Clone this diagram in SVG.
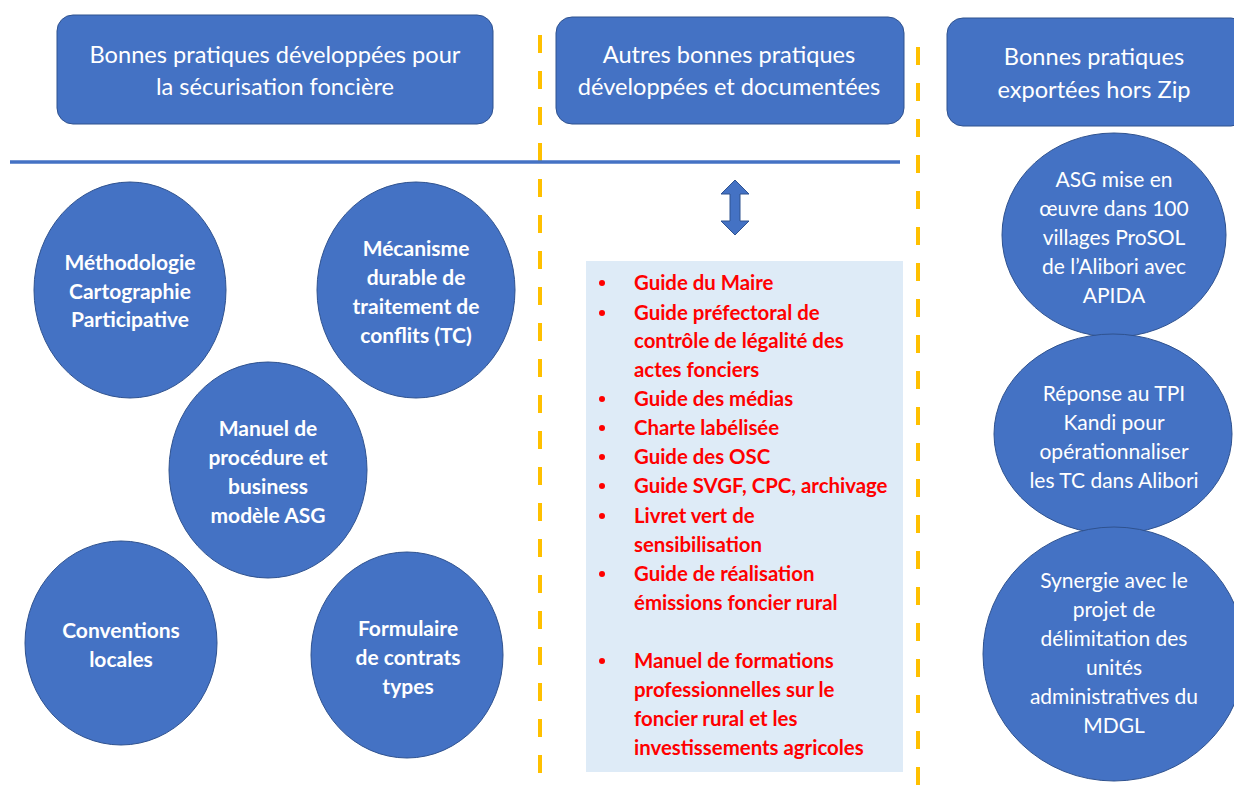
<svg xmlns="http://www.w3.org/2000/svg" width="1234" height="785" viewBox="0 0 1234 785">
  <style>
    .hdr { fill: #4472C4; stroke: #2F528F; stroke-width: 1; }
    .hdr-t { font-family: Lato, "Liberation Sans", sans-serif; font-size: 23.6px; fill: #FFFFFF; text-anchor: middle; }
    .disc { fill: #4472C4; stroke: #2F528F; stroke-width: 1; }
    .disc-b { font-family: Lato, "Liberation Sans", sans-serif; font-size: 21px; font-weight: bold; fill: #FFFFFF; text-anchor: middle; }
    .disc-r { font-family: Lato, "Liberation Sans", sans-serif; font-size: 21px; fill: #FFFFFF; text-anchor: middle; }
    .sep { stroke: #FFC000; stroke-width: 4; stroke-dasharray: 18 18; fill: none; }
    .rule { stroke: #4472C4; stroke-width: 3.5; fill: none; }
    .list { font-family: Lato, "Liberation Sans", sans-serif; font-size: 20.4px; font-weight: bold; fill: #FF0000; }
    .bullet { fill: #FF0000; }
  </style>

  <rect width="1234" height="785" fill="#FFFFFF"/>

  <!-- column separators and header rule -->
  <g id="guides">
    <line class="sep" x1="540" y1="35" x2="540" y2="785"/>
    <line class="sep" x1="918" y1="47" x2="918" y2="785"/>
    <line class="rule" x1="10" y1="162" x2="900" y2="162"/>
  </g>

  <!-- column headers -->
  <g id="header-securisation">
    <rect class="hdr" x="57" y="15" width="436" height="109" rx="16"/>
    <text class="hdr-t" x="275" y="63">Bonnes pratiques développées pour</text>
    <text class="hdr-t" x="275" y="95">la sécurisation foncière</text>
  </g>
  <g id="header-autres">
    <rect class="hdr" x="556" y="17" width="348" height="107" rx="16"/>
    <text class="hdr-t" x="729" y="63">Autres bonnes pratiques</text>
    <text class="hdr-t" x="729" y="95">développées et documentées</text>
  </g>
  <g id="header-exportees">
    <rect class="hdr" x="947" y="18" width="300" height="108" rx="16"/>
    <text class="hdr-t" x="1094" y="65">Bonnes pratiques</text>
    <text class="hdr-t" x="1094" y="98">exportées hors Zip</text>
  </g>

  <!-- left column -->
  <g id="methodologie">
    <ellipse class="disc" cx="130" cy="290" rx="96" ry="108"/>
    <text class="disc-b" x="130" y="270">Méthodologie</text>
    <text class="disc-b" x="130" y="299">Cartographie</text>
    <text class="disc-b" x="130" y="327">Participative</text>
  </g>
  <g id="mecanisme">
    <ellipse class="disc" cx="416" cy="290" rx="99" ry="108"/>
    <text class="disc-b" x="416" y="256">Mécanisme</text>
    <text class="disc-b" x="416" y="285">durable de</text>
    <text class="disc-b" x="416" y="314">traitement de</text>
    <text class="disc-b" x="416" y="343">conflits (TC)</text>
  </g>
  <g id="manuel">
    <ellipse class="disc" cx="268" cy="470" rx="99" ry="108"/>
    <text class="disc-b" x="268" y="436">Manuel de</text>
    <text class="disc-b" x="268" y="465">procédure et</text>
    <text class="disc-b" x="268" y="494">business</text>
    <text class="disc-b" x="268" y="523">modèle ASG</text>
  </g>
  <g id="conventions">
    <ellipse class="disc" cx="121" cy="643" rx="96" ry="102"/>
    <text class="disc-b" x="121" y="638">Conventions</text>
    <text class="disc-b" x="121" y="667">locales</text>
  </g>
  <g id="formulaire">
    <ellipse class="disc" cx="407" cy="655" rx="96" ry="103"/>
    <text class="disc-b" x="408" y="636">Formulaire</text>
    <text class="disc-b" x="408" y="665">de contrats</text>
    <text class="disc-b" x="408" y="694">types</text>
  </g>

  <!-- middle column -->
  <g id="connectors">
    <polygon class="disc" points="735,180 749,194 740,194 740,221 749,221 735,235 721,221 730,221 730,194 721,194"/>
  </g>
  <g id="liste-guides">
    <rect x="586" y="261" width="317" height="511" fill="#DEEBF7"/>
    <g class="bullet">
      <circle cx="602" cy="283" r="3"/>
      <circle cx="602" cy="313" r="3"/>
      <circle cx="602" cy="399" r="3"/>
      <circle cx="602" cy="428" r="3"/>
      <circle cx="602" cy="457" r="3"/>
      <circle cx="602" cy="486" r="3"/>
      <circle cx="602" cy="516" r="3"/>
      <circle cx="602" cy="574" r="3"/>
      <circle cx="602" cy="661" r="3"/>
    </g>
    <g class="list">
      <text x="634" y="290">Guide du Maire</text>
      <text x="634" y="320">Guide préfectoral de</text>
      <text x="634" y="348">contrôle de légalité des</text>
      <text x="634" y="377">actes fonciers</text>
      <text x="634" y="406">Guide des médias</text>
      <text x="634" y="435">Charte labélisée</text>
      <text x="634" y="464">Guide des OSC</text>
      <text x="634" y="493">Guide SVGF, CPC, archivage</text>
      <text x="634" y="523">Livret vert de</text>
      <text x="634" y="552">sensibilisation</text>
      <text x="634" y="581">Guide de réalisation</text>
      <text x="634" y="610">émissions foncier rural</text>
      <text x="634" y="668">Manuel de formations</text>
      <text x="634" y="697">professionnelles sur le</text>
      <text x="634" y="726">foncier rural et les</text>
      <text x="634" y="755">investissements agricoles</text>
    </g>
  </g>

  <!-- right column -->
  <g id="asg-alibori">
    <ellipse class="disc" cx="1114" cy="235" rx="112" ry="102"/>
    <text class="disc-r" x="1114" y="187">ASG mise en</text>
    <text class="disc-r" x="1114" y="216">œuvre dans 100</text>
    <text class="disc-r" x="1114" y="245">villages ProSOL</text>
    <text class="disc-r" x="1114" y="274">de l’Alibori avec</text>
    <text class="disc-r" x="1114" y="303">APIDA</text>
  </g>
  <g id="tpi-kandi">
    <ellipse class="disc" cx="1113" cy="434" rx="119" ry="100"/>
    <text class="disc-r" x="1114" y="401">Réponse au TPI</text>
    <text class="disc-r" x="1114" y="430">Kandi pour</text>
    <text class="disc-r" x="1114" y="459">opérationnaliser</text>
    <text class="disc-r" x="1114" y="488">les TC dans Alibori</text>
  </g>
  <g id="synergie-mdgl">
    <ellipse class="disc" cx="1114" cy="654" rx="131" ry="127"/>
    <text class="disc-r" x="1114" y="588">Synergie avec le</text>
    <text class="disc-r" x="1114" y="617">projet de</text>
    <text class="disc-r" x="1114" y="646">délimitation des</text>
    <text class="disc-r" x="1114" y="675">unités</text>
    <text class="disc-r" x="1114" y="704">administratives du</text>
    <text class="disc-r" x="1114" y="733">MDGL</text>
  </g>
</svg>
